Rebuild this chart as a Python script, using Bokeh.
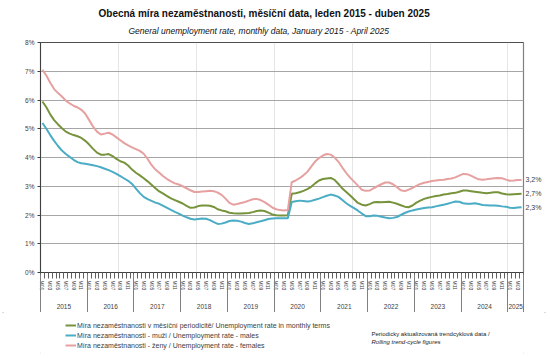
from bokeh.plotting import figure
from bokeh.layouts import column
from bokeh.models import (Range1d, Legend, LegendItem, FixedTicker, Span, Title, Label,
                          LinearAxis, CustomJSTickFormatter)
from bokeh.embed import file_html
from bokeh.resources import INLINE

title_text = "Obecná míra nezaměstnanosti, měsíční data, leden 2015 - duben 2025"
subtitle_text = "General unemployment rate, monthly data, January 2015 - April 2025"

years = ["2015", "2016", "2017", "2018", "2019", "2020", "2021", "2022", "2023", "2024", "2025"]
months_per_year = [12, 12, 12, 12, 12, 12, 12, 12, 12, 12, 4]
month_names = ["M01", "M02", "M03", "M04", "M05", "M06", "M07", "M08", "M09", "M10", "M11", "M12"]

total = [5.95, 5.75, 5.5, 5.3, 5.15, 5.02, 4.9, 4.83, 4.78, 4.74, 4.68, 4.58,
         4.45, 4.3, 4.17, 4.1, 4.1, 4.12, 4.05, 3.95, 3.87, 3.82, 3.72, 3.58,
         3.47, 3.38, 3.28, 3.17, 3.05, 2.93, 2.82, 2.74, 2.66, 2.58, 2.52, 2.46,
         2.4, 2.32, 2.25, 2.26, 2.31, 2.33, 2.33, 2.32, 2.28, 2.2, 2.16, 2.13,
         2.08, 2.06, 2.05, 2.05, 2.06, 2.07, 2.1, 2.14, 2.16, 2.14, 2.08, 2.02,
         1.99, 1.98, 1.98, 1.99, 2.74, 2.76, 2.79, 2.84, 2.9, 2.98, 3.1, 3.2,
         3.25, 3.27, 3.29, 3.22, 3.08, 2.92, 2.8, 2.68, 2.55, 2.42, 2.36, 2.33,
         2.38, 2.44, 2.45, 2.44, 2.45, 2.46, 2.43, 2.39, 2.34, 2.29, 2.27, 2.33,
         2.43, 2.5, 2.56, 2.6, 2.63, 2.66, 2.68, 2.71, 2.73, 2.76, 2.77, 2.81,
         2.85, 2.85, 2.83, 2.81, 2.79, 2.77, 2.76, 2.77, 2.79, 2.79, 2.75, 2.72,
         2.71, 2.72, 2.73, 2.74]

males = [5.2, 5.0, 4.78, 4.58, 4.4, 4.24, 4.12, 4.02, 3.92, 3.84, 3.8, 3.78,
         3.76, 3.73, 3.7, 3.66, 3.61, 3.56, 3.5, 3.43, 3.35, 3.27, 3.19, 3.08,
         2.92, 2.76, 2.63, 2.55, 2.49, 2.43, 2.39, 2.32, 2.25, 2.18, 2.11, 2.05,
         1.98, 1.92, 1.87, 1.84, 1.86, 1.88, 1.87, 1.82, 1.75, 1.69, 1.7, 1.74,
         1.79, 1.81, 1.8, 1.77, 1.72, 1.69, 1.71, 1.75, 1.78, 1.82, 1.86, 1.88,
         1.89, 1.89, 1.89, 1.89, 2.45, 2.48, 2.5, 2.49, 2.47, 2.49, 2.53, 2.57,
         2.62, 2.67, 2.71, 2.68, 2.63, 2.52, 2.41, 2.32, 2.24, 2.15, 2.05, 1.96,
         1.96, 1.98, 1.97, 1.94, 1.91, 1.89, 1.9, 1.93, 2.0, 2.07, 2.12, 2.16,
         2.19, 2.22, 2.24, 2.26, 2.27, 2.3, 2.33, 2.36, 2.39, 2.43, 2.47, 2.46,
         2.41, 2.39, 2.39, 2.41, 2.38, 2.35, 2.34, 2.33, 2.33, 2.32, 2.3, 2.29,
         2.25, 2.24, 2.26, 2.27]

females = [7.05, 6.85, 6.6, 6.38, 6.24, 6.12, 5.98, 5.88, 5.8, 5.74, 5.66, 5.52,
           5.3, 5.07, 4.9, 4.8, 4.83, 4.86, 4.8, 4.7, 4.6, 4.5, 4.42, 4.35,
           4.29, 4.23, 4.13, 3.95, 3.74, 3.58, 3.47, 3.35, 3.25, 3.17, 3.1, 3.06,
           3.0, 2.93, 2.86, 2.8, 2.8, 2.82, 2.83, 2.84, 2.83, 2.78, 2.7, 2.57,
           2.42, 2.36, 2.38, 2.42, 2.45, 2.5, 2.55, 2.56, 2.52, 2.45, 2.36, 2.26,
           2.2, 2.17, 2.16, 2.17, 3.14, 3.2, 3.28, 3.38, 3.5, 3.68, 3.86, 3.98,
           4.07, 4.12, 4.1, 4.0, 3.85, 3.65, 3.46, 3.3, 3.16, 3.02, 2.88, 2.84,
           2.85, 2.93, 3.0, 3.07, 3.13, 3.13, 3.07, 2.97, 2.86, 2.83, 2.88, 2.94,
           3.01, 3.08, 3.12, 3.15, 3.18, 3.2, 3.22, 3.23, 3.25, 3.27, 3.31, 3.37,
           3.43, 3.42, 3.37, 3.3, 3.24, 3.23, 3.24, 3.26, 3.28, 3.29, 3.28, 3.23,
           3.19, 3.2, 3.22, 3.22]

y_ticks = [0, 1, 2, 3, 4, 5, 6, 7, 8]
series_labels = [
    "Míra nezaměstnanosti v měsíční periodicitě/ Unemployment rate in monthly terms",
    "Míra nezaměstnanosti - muži / Unemployment rate - males",
    "Míra nezaměstnanosti - ženy / Unemployment rate - females",
]
note_lines = ["Periodicky aktualizovaná trendcyklová data /", "Rolling trend-cycle figures"]

colors = ["#77933C", "#4BACC6", "#E6A0A0"]
FONT = "'Liberation Sans', Arial, sans-serif"
TXT = "#404040"

# month positions on a numeric axis: month i sits at the centre of slot [i, i+1]
month_of = []
for n in months_per_year:
    month_of.extend(range(n))
n_months = len(month_of)
xs = [i + 0.5 for i in range(n_months)]
year_bounds = [0]
for n in months_per_year:
    year_bounds.append(year_bounds[-1] + n)
year_centers = [(a + b) / 2 for a, b in zip(year_bounds[:-1], year_bounds[1:])]
label_ticks = [xs[i] for i in range(n_months) if month_of[i] % 2 == 0]
label_text = {xs[i]: month_names[month_of[i]] for i in range(n_months) if month_of[i] % 2 == 0}

W = 548
H_MAIN, H_LEG = 312, 44

# ---------------- main chart ----------------
p = figure(width=W, height=H_MAIN, x_range=Range1d(0, n_months), y_range=Range1d(0, 8),
           output_backend="svg", toolbar_location=None, x_axis_location=None,
           min_border_left=40, min_border_right=25, min_border_top=42, min_border_bottom=40)
p.background_fill_color = "white"
p.border_fill_color = "white"
p.outline_line_color = "#808080"
p.outline_line_width = 1.2
p.ygrid.grid_line_color = "#a6a6a6"
p.ygrid.grid_line_width = 1

p.yaxis.ticker = FixedTicker(ticks=y_ticks)
p.yaxis.major_label_overrides = {t: f"{t}%" for t in y_ticks}
p.yaxis.major_label_text_font = FONT
p.yaxis.major_label_text_font_size = "6.5px"
p.yaxis.major_label_text_color = TXT
p.yaxis.major_label_standoff = 3
p.yaxis.major_tick_out = 3
p.yaxis.major_tick_in = 0
p.yaxis.minor_tick_out = 0
p.yaxis.minor_tick_in = 0
p.yaxis.axis_line_color = "#404040"
p.yaxis.major_tick_line_color = "#404040"

month_axis = LinearAxis(ticker=FixedTicker(ticks=label_ticks, minor_ticks=list(range(n_months + 1))),
                        major_label_overrides=label_text, major_label_orientation="vertical",
                        major_label_text_font=FONT, major_label_text_font_size="5px",
                        major_label_text_color=TXT, major_label_standoff=2,
                        major_tick_out=6, major_tick_in=0, major_tick_line_color=None,
                        minor_tick_out=6, minor_tick_in=0, minor_tick_line_color="#606060",
                        axis_line_color="#404040")
p.add_layout(month_axis, "below")

year_axis = LinearAxis(ticker=FixedTicker(ticks=year_centers, minor_ticks=year_bounds),
                       major_label_overrides={c: y for c, y in zip(year_centers, years)},
                       major_label_text_font=FONT, major_label_text_font_size="6.5px",
                       major_label_text_color=TXT, major_label_standoff=-9,
                       major_tick_out=0, major_tick_in=0, major_tick_line_color=None,
                       minor_tick_in=19, minor_tick_out=19, minor_tick_line_color="#808080",
                       axis_line_color=None)
p.add_layout(year_axis, "below")

val_axis = LinearAxis(ticker=FixedTicker(ticks=[females[-1], total[-1], males[-1]], minor_ticks=[]),
                      formatter=CustomJSTickFormatter(code="return (tick.toFixed(1) + '%').replace('.', ',');"),
                      axis_line_color=None, major_tick_line_color=None, minor_tick_line_color=None,
                      major_tick_out=0, major_tick_in=0,
                      major_label_standoff=2, major_label_text_font=FONT,
                      major_label_text_font_size="7px", major_label_text_color=TXT)
p.add_layout(val_axis, "right")

p.add_layout(Span(location=8, dimension="width", line_color="#202020", line_width=1.2))

for vals, col in zip([total, males, females], colors):
    p.line(x=xs, y=vals, line_color=col, line_width=2)

p.add_layout(Title(text=subtitle_text, align="left", offset=88, standoff=13,
                   text_font=FONT, text_font_size="8.5px", text_font_style="italic",
                   text_color="#111111"), "above")
p.add_layout(Title(text=title_text, align="left", offset=58, standoff=-2,
                   text_font=FONT, text_font_size="10px", text_font_style="bold",
                   text_color="#111111"), "above")

# ---------------- legend strip ----------------
q = figure(width=W, height=H_LEG, x_range=Range1d(-3, -2), y_range=Range1d(0, 1),
           output_backend="svg", toolbar_location=None,
           x_axis_location=None, y_axis_location=None, min_border=0)
q.outline_line_color = None
q.grid.visible = False
q.background_fill_color = "white"
q.border_fill_color = "white"

# legend proxies: the same series drawn outside this strip's visible range
leg_renderers = [q.line(x=xs, y=vals, line_color=col, line_width=2)
                 for vals, col in zip([total, males, females], colors)]
legend = Legend(items=[LegendItem(label=lab, renderers=[r]) for lab, r in zip(series_labels, leg_renderers)],
                location=(25, 6), orientation="vertical",
                label_text_font=FONT, label_text_font_size="7px", label_text_color=TXT,
                glyph_width=11, glyph_height=10, label_height=10, label_standoff=1,
                spacing=0, padding=0, margin=0,
                border_line_color=None, background_fill_alpha=0)
q.add_layout(legend)

q.add_layout(Label(x=331, y=23, x_units="screen", y_units="screen", text=note_lines[0],
                   text_font=FONT, text_font_size="6px", text_color="#222222",
                   text_align="left", text_baseline="middle"))
q.add_layout(Label(x=331, y=15, x_units="screen", y_units="screen", text=note_lines[1],
                   text_font=FONT, text_font_size="6px", text_font_style="italic",
                   text_color="#222222", text_align="left", text_baseline="middle"))

layout = column(p, q, spacing=0,
                styles={"outline": "2px solid #cfcfcf", "outline-offset": "-4px"})
open("out.html", "w").write(file_html(layout, INLINE))
